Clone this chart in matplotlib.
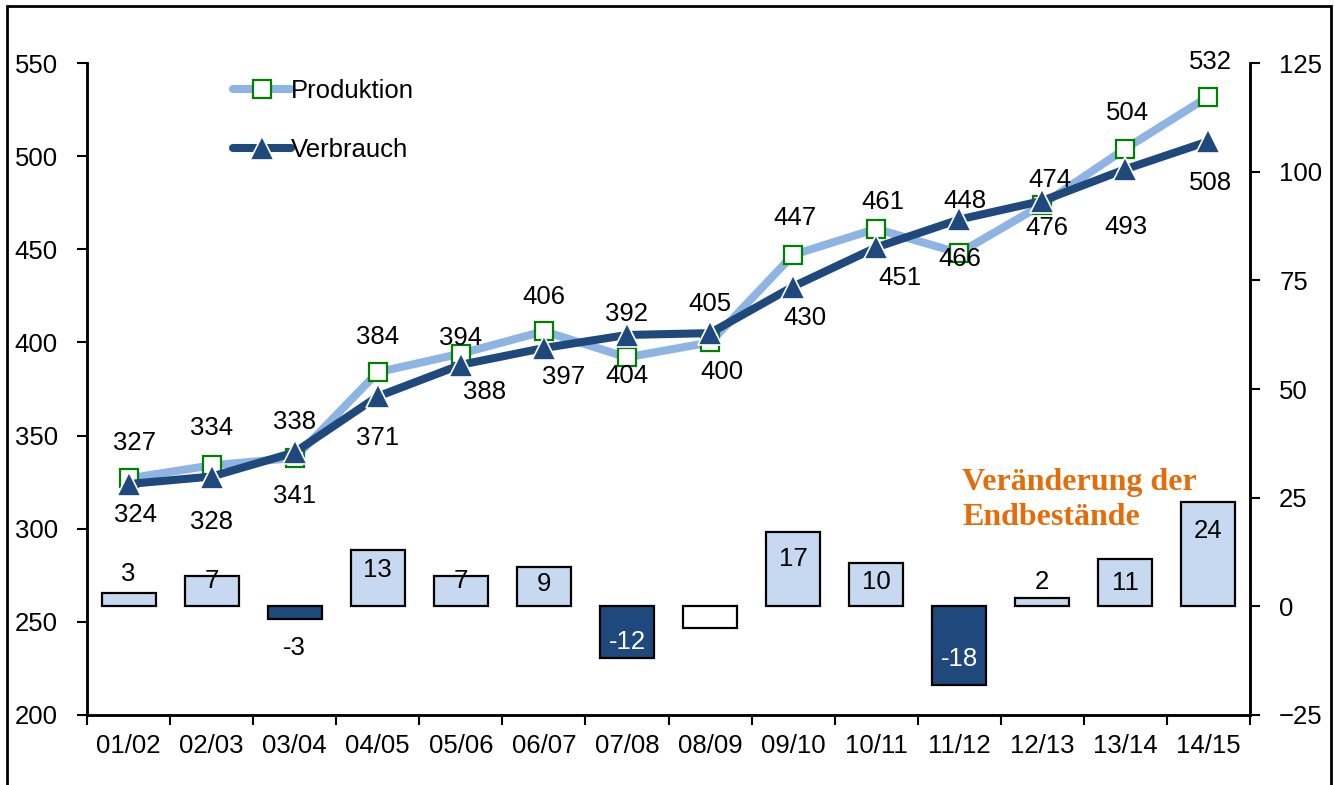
import numpy as np
import matplotlib
matplotlib.use("Agg")
import matplotlib.pyplot as plt
from matplotlib.patches import Rectangle

plt.rcParams['font.family'] = ['Liberation Sans', 'DejaVu Sans']

# ----------------------------
# Data
# ----------------------------
years = ["01/02", "02/03", "03/04", "04/05", "05/06", "06/07", "07/08",
         "08/09", "09/10", "10/11", "11/12", "12/13", "13/14", "14/15"]
produktion = [327, 334, 338, 384, 394, 406, 392, 400, 447, 461, 448, 474, 504, 532]
verbrauch = [324, 328, 341, 371, 388, 397, 404, 405, 430, 451, 466, 476, 493, 508]
bestand = [3, 7, -3, 13, 7, 9, -12, -5, 17, 10, -18, 2, 11, 24]
bestand_labels = ["3", "7", "-3", "13", "7", "9", "-12", "", "17", "10", "-18", "2", "11", "24"]

# label offsets in pixels (dx, dy up)
prod_off = [(6, 35), (0, 37), (0, 36), (0, 35), (0, 16), (0, 34), (0, 43), (12, -30),
            (2, 37), (7, 27), (6, 52), (8, 25), (2, 36), (2, 35)]
verb_off = [(7, -31), (0, -45), (0, -44), (0, -42), (24, -27), (20, -29), (0, -41), (0, 29),
            (12, -31), (24, -31), (1, -40), (5, -27), (1, -58), (2, -42)]
bar_off = [19, -5, -29, -20, -5, -17, 16, 0, -27, -19, 26, 16, -24, -29]

x = np.arange(len(years))
fs = 18.5

# ----------------------------
# Plot
# ----------------------------
fig = plt.figure(figsize=(13.35, 7.85), dpi=100)
ax = fig.add_axes([87/1335, 1 - 715/785, (1250-87)/1335, (715-63)/785])
ax2 = ax.twinx()

light = "#c6d9f1"
dark = "#1f497d"

# bars (right axis)
colors = [light if v > 0 else dark for v in bestand]
colors[7] = "white"
bars = ax2.bar(x, bestand, width=0.65, color=colors, edgecolor="black", linewidth=1.6)
for i, (v, lab) in enumerate(zip(bestand, bestand_labels)):
    if not lab:
        continue
    tc = "white" if v <= -10 else "black"
    ax2.annotate(lab, (i, v), xytext=(0, bar_off[i]), textcoords="offset pixels",
                 ha="center", va="center", fontsize=fs, color=tc)

# lines (left axis)
ax.plot(x, produktion, '-', color="#8db4e2", linewidth=5.8, marker='s', markersize=13,
        markerfacecolor="white", markeredgecolor="#008000", markeredgewidth=1.6,
        label="Produktion", solid_capstyle="round", zorder=3)
ax.plot(x, verbrauch, '-', color=dark, linewidth=5.8, marker='^', markersize=17,
        markerfacecolor=dark, markeredgecolor="white", markeredgewidth=1.2,
        label="Verbrauch", solid_capstyle="round", zorder=4)

for i in range(len(years)):
    ax.annotate(str(produktion[i]), (i, produktion[i]), xytext=prod_off[i],
                textcoords="offset pixels", ha="center", va="center", fontsize=fs)
    ax.annotate(str(verbrauch[i]), (i, verbrauch[i]), xytext=verb_off[i],
                textcoords="offset pixels", ha="center", va="center", fontsize=fs)

ax.set_zorder(ax2.get_zorder() + 1)
ax.patch.set_visible(False)

# axes
ax.set_xlim(-0.5, len(years) - 0.5)
ax.set_ylim(200, 550)
ax2.set_ylim(-25, 125)
ax.set_yticks(np.arange(200, 551, 50))
ax2.set_yticks(np.arange(-25, 126, 25))
ax.set_xticks(x)
ax.set_xticklabels(years)
ax.set_xticks(np.arange(-0.5, len(years)), minor=True)
ax.tick_params(axis='x', which='major', length=0, pad=14, labelsize=fs)
ax.tick_params(axis='x', which='minor', length=7, width=1.5, direction='out')
ax.tick_params(axis='y', length=7, width=1.5, direction='out', labelsize=fs, pad=14)
ax2.tick_params(axis='y', length=7, width=1.5, direction='out', labelsize=fs, pad=14)

for a in (ax, ax2):
    a.spines['top'].set_visible(False)
    for s in ('left', 'right', 'bottom'):
        a.spines[s].set_linewidth(1.8)

ax.legend(loc="upper left", bbox_to_anchor=(0.106, 1.011), frameon=False, fontsize=fs,
          handlelength=2.25, handletextpad=0.0, labelspacing=1.35, numpoints=1)

fig.text(962/1335, 1 - 500/785, "Veränderung der\nEndbestände", color="#e46c0a",
         fontsize=23, fontweight="bold", family="Liberation Serif",
         ha="left", va="center", linespacing=1.25)

# figure frame
fig.patches.append(Rectangle((7/1335, -0.1), (1331-7)/1335, 1.1 - 6/785,
                             transform=fig.transFigure, fill=False,
                             edgecolor="black", linewidth=2))

plt.savefig("out.png", dpi=100)
